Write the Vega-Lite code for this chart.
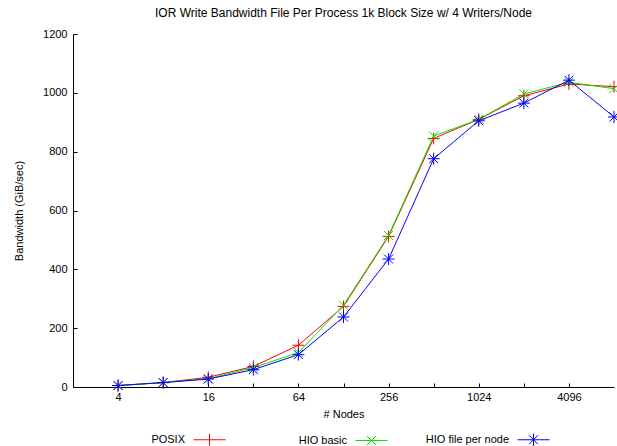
{
  "$schema": "https://vega.github.io/schema/vega-lite/v6.json",
  "width": 541,
  "height": 353,
  "autosize": {"type": "none"},
  "padding": {"left": 73, "top": 34, "right": 3, "bottom": 59},
  "background": "white",
  "title": {"text": "IOR Write Bandwidth File Per Process 1k Block Size w/ 4 Writers/Node", "font": "Liberation Sans", "fontSize": 12, "fontWeight": "normal", "color": "#000", "offset": 8},
  "config": {
    "view": {"stroke": null},
    "font": "Liberation Sans"
  },
  "data": {"values": [
    {"nodes": 4, "series": "POSIX", "bw": 5},
    {"nodes": 8, "series": "POSIX", "bw": 15},
    {"nodes": 16, "series": "POSIX", "bw": 33},
    {"nodes": 32, "series": "POSIX", "bw": 70},
    {"nodes": 64, "series": "POSIX", "bw": 142},
    {"nodes": 128, "series": "POSIX", "bw": 274},
    {"nodes": 256, "series": "POSIX", "bw": 512},
    {"nodes": 512, "series": "POSIX", "bw": 845},
    {"nodes": 1024, "series": "POSIX", "bw": 910},
    {"nodes": 2048, "series": "POSIX", "bw": 990},
    {"nodes": 4096, "series": "POSIX", "bw": 1030},
    {"nodes": 8192, "series": "POSIX", "bw": 1021},
    {"nodes": 4, "series": "HIO basic", "bw": 5},
    {"nodes": 8, "series": "HIO basic", "bw": 15},
    {"nodes": 16, "series": "HIO basic", "bw": 28},
    {"nodes": 32, "series": "HIO basic", "bw": 66},
    {"nodes": 64, "series": "HIO basic", "bw": 117},
    {"nodes": 128, "series": "HIO basic", "bw": 278},
    {"nodes": 256, "series": "HIO basic", "bw": 515},
    {"nodes": 512, "series": "HIO basic", "bw": 853},
    {"nodes": 1024, "series": "HIO basic", "bw": 910},
    {"nodes": 2048, "series": "HIO basic", "bw": 996},
    {"nodes": 4096, "series": "HIO basic", "bw": 1036},
    {"nodes": 8192, "series": "HIO basic", "bw": 1014},
    {"nodes": 4, "series": "HIO file per node", "bw": 5},
    {"nodes": 8, "series": "HIO file per node", "bw": 15},
    {"nodes": 16, "series": "HIO file per node", "bw": 27},
    {"nodes": 32, "series": "HIO file per node", "bw": 59},
    {"nodes": 64, "series": "HIO file per node", "bw": 110},
    {"nodes": 128, "series": "HIO file per node", "bw": 238},
    {"nodes": 256, "series": "HIO file per node", "bw": 435},
    {"nodes": 512, "series": "HIO file per node", "bw": 776},
    {"nodes": 1024, "series": "HIO file per node", "bw": 905},
    {"nodes": 2048, "series": "HIO file per node", "bw": 965},
    {"nodes": 4096, "series": "HIO file per node", "bw": 1043},
    {"nodes": 8192, "series": "HIO file per node", "bw": 918}
  ]},
  "encoding": {
    "x": {"field": "nodes", "type": "quantitative",
      "scale": {"type": "log", "base": 2, "domain": [2, 8192], "nice": false},
      "axis": {"title": "# Nodes", "titleFont": "Liberation Sans", "titleFontSize": 11, "titleFontWeight": "normal", "titleColor": "#000", "titlePadding": 6,
        "values": [4, 8, 16, 32, 64, 128, 256, 512, 1024, 2048, 4096],
        "labelExpr": "indexof([4,16,64,256,1024,4096], datum.value) >= 0 ? datum.value : ''",
        "labelFont": "Liberation Sans", "labelFontSize": 11, "labelColor": "#000", "labelPadding": 8,
        "tickSize": -4, "tickColor": "#000", "domainColor": "#000", "grid": false, "labelFlush": false}},
    "y": {"field": "bw", "type": "quantitative",
      "scale": {"domain": [0, 1200], "nice": false},
      "axis": {"title": "Bandwidth (GiB/sec)", "titleFont": "Liberation Sans", "titleFontSize": 11, "titleFontWeight": "normal", "titleColor": "#000", "titlePadding": 18,
        "values": [0, 200, 400, 600, 800, 1000, 1200], "format": "d",
        "labelFont": "Liberation Sans", "labelFontSize": 11, "labelColor": "#000", "labelPadding": 10,
        "tickSize": -4, "tickColor": "#000", "domainColor": "#000", "grid": false}},
    "color": {"field": "series", "type": "nominal",
      "scale": {"domain": ["POSIX", "HIO basic", "HIO file per node"], "range": ["#ff0000", "#00e600", "#0000ff"]},
      "legend": {"title": null, "orient": "none", "legendX": 130, "legendY": 399, "direction": "horizontal", "padding": 0,
        "labelFont": "Liberation Sans", "labelFontSize": 11, "labelColor": "#000",
        "labelAlign": "right", "labelOffset": -31, "columnPadding": 35, "gridAlign": "all", "symbolSize": 144, "symbolStrokeWidth": 1,
        "encode": {"symbols": {"update": {"shape": {"signal": "datum.value === 'POSIX' ? 'M-2.67,0H2.67M0,-1V1' : datum.value === 'HIO basic' ? 'M-2.67,0H2.67M-0.75,-0.75L0.75,0.75M-0.75,0.75L0.75,-0.75' : 'M-2.67,0H2.67M0,-1V1M-0.75,-0.75L0.75,0.75M-0.75,0.75L0.75,-0.75'"}, "fill": {"value": "transparent"}, "strokeWidth": {"value": 1}}}}}}
  },
  "layer": [
    {"mark": {"type": "line", "strokeWidth": 1}},
    {"transform": [{"filter": "datum.series === 'POSIX'"}],
     "mark": {"type": "point", "filled": false, "size": 144, "strokeWidth": 1, "opacity": 1, "shape": "M-1,0H1M0,-1V1"}},
    {"transform": [{"filter": "datum.series === 'HIO basic'"}],
     "mark": {"type": "point", "filled": false, "size": 144, "strokeWidth": 1, "opacity": 1, "shape": "M-0.75,-0.75L0.75,0.75M-0.75,0.75L0.75,-0.75"}},
    {"transform": [{"filter": "datum.series === 'HIO file per node'"}],
     "mark": {"type": "point", "filled": false, "size": 144, "strokeWidth": 1, "opacity": 1, "shape": "M-1,0H1M0,-1V1M-0.75,-0.75L0.75,0.75M-0.75,0.75L0.75,-0.75"}}
  ]
}
